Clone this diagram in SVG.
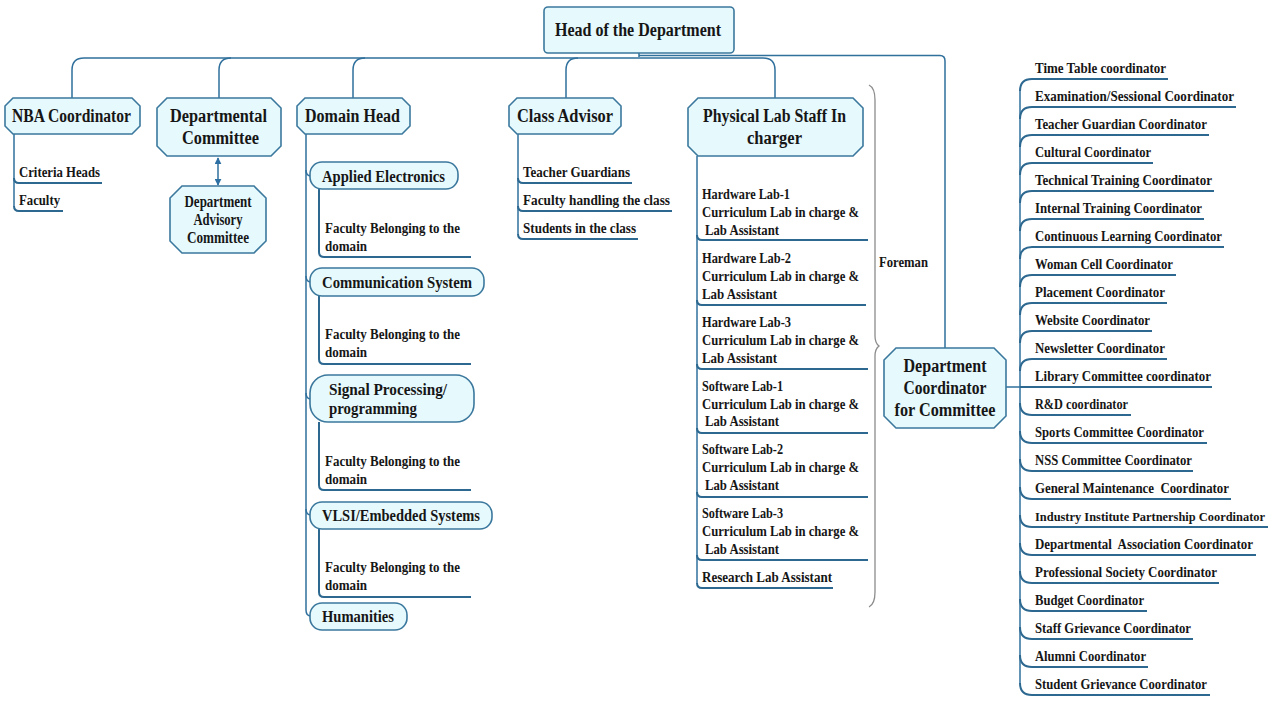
<svg xmlns="http://www.w3.org/2000/svg" width="1280" height="720" viewBox="0 0 1280 720">
<defs>
<style>
.box{fill:#e6f9fd;stroke:#3b789d;stroke-width:1.6}
.ln{fill:none;stroke:#30709c;stroke-width:1.5}
.ul{fill:none;stroke:#2c6890;stroke-width:2}
.br{fill:none;stroke:#8c8c8c;stroke-width:1.3}
text{font-family:"Liberation Serif","DejaVu Serif",serif;font-weight:bold;fill:#161616;white-space:pre}
.h{font-size:18px}
.m{font-size:16px}
.s{font-size:14px}
.xs{font-size:12.8px}
</style>
<marker id="ah" viewBox="0 0 10 10" refX="9" refY="5" markerWidth="7" markerHeight="7" orient="auto-start-reverse" markerUnits="userSpaceOnUse">
<path d="M0,0 L10,5 L0,10 Z" fill="#2c6fa3"/>
</marker>
</defs>
<rect width="1280" height="720" fill="#ffffff"/>

<g id="connectors">
<path class="ln" d="M639,53 V57"/>
<path class="ln" d="M72,98 V70 Q72,58 84,58 H763 Q775,58 775,70 V98"/>
<path class="ln" d="M231,58 Q219,58 219,70 V98"/>
<path class="ln" d="M365,58 Q353,58 353,70 V98"/>
<path class="ln" d="M578,58 Q566,58 566,70 V98"/>
<path class="ln" d="M639,55.5 H940 Q945,55.5 945,61 V348"/>
<path class="ln" d="M218,158 V185" stroke="#2c6fa3" marker-start="url(#ah)" marker-end="url(#ah)"/>
<!-- NBA -->
<path class="ln" d="M14,134 V206"/>
<path class="ul" d="M14,178 Q14,183 19,183 H102"/>
<path class="ul" d="M14,206 Q14,211 19,211 H63"/>
<!-- Domain head -->
<path class="ln" d="M306,134 V610 Q306,616 311,616"/>
<path class="ln" d="M306,170 Q306,176 311,176"/>
<path class="ln" d="M306,276 Q306,282 311,282"/>
<path class="ln" d="M306,393 Q306,399 311,399"/>
<path class="ln" d="M306,509 Q306,515 311,515"/>
<path class="ul" d="M319,189 V252 Q319,257 324,257 H471"/>
<path class="ul" d="M319,296 V359 Q319,364 324,364 H471"/>
<path class="ul" d="M319,422 V485 Q319,490 324,490 H471"/>
<path class="ul" d="M319,529 V592 Q319,597 324,597 H471"/>
<!-- Class advisor -->
<path class="ln" d="M518,134 V234"/>
<path class="ul" d="M518,178 Q518,183 523,183 H632"/>
<path class="ul" d="M518,206 Q518,211 523,211 H672"/>
<path class="ul" d="M518,234 Q518,239 523,239 H638"/>
<!-- Physical lab -->
<path class="ln" d="M697,156 V583"/>
<path class="ul" d="M697,235 Q697,240 702,240 H868"/>
<path class="ul" d="M697,300 Q697,305 702,305 H866"/>
<path class="ul" d="M697,364 Q697,369 702,369 H868"/>
<path class="ul" d="M697,428 Q697,433 702,433 H868"/>
<path class="ul" d="M697,492 Q697,497 702,497 H868"/>
<path class="ul" d="M697,555 Q697,560 702,560 H868"/>
<path class="ul" d="M697,583 Q697,588 702,588 H833"/>
<path class="br" d="M869,85 Q875,88 875,100 V336 Q875,343 879,346 Q875,349 875,356 V592 Q875,604 869,607"/>
<!-- Committee list -->
<path class="ln" d="M1006,387 H1020"/>
<path class="ln" d="M1020,91 V683"/>
<path class="ul" d="M1020,91 Q1020,79 1032,79 H1168"/>
<path class="ul" d="M1020,119 Q1020,107 1032,107 H1236"/>
<path class="ul" d="M1020,147 Q1020,135 1032,135 H1209"/>
<path class="ul" d="M1020,175 Q1020,163 1032,163 H1153"/>
<path class="ul" d="M1020,203 Q1020,191 1032,191 H1214"/>
<path class="ul" d="M1020,231 Q1020,219 1032,219 H1204"/>
<path class="ul" d="M1020,259 Q1020,247 1032,247 H1224"/>
<path class="ul" d="M1020,287 Q1020,275 1032,275 H1176"/>
<path class="ul" d="M1020,315 Q1020,303 1032,303 H1167"/>
<path class="ul" d="M1020,343 Q1020,331 1032,331 H1152"/>
<path class="ul" d="M1020,371 Q1020,359 1032,359 H1167"/>
<path class="ul" d="M1020,387 H1212"/>
<path class="ul" d="M1020,403 Q1020,415 1032,415 H1131"/>
<path class="ul" d="M1020,431 Q1020,443 1032,443 H1207"/>
<path class="ul" d="M1020,459 Q1020,471 1032,471 H1193"/>
<path class="ul" d="M1020,487 Q1020,499 1032,499 H1231"/>
<path class="ul" d="M1020,515 Q1020,527 1032,527 H1268"/>
<path class="ul" d="M1020,543 Q1020,555 1032,555 H1256"/>
<path class="ul" d="M1020,571 Q1020,583 1032,583 H1219"/>
<path class="ul" d="M1020,599 Q1020,611 1032,611 H1147"/>
<path class="ul" d="M1020,627 Q1020,639 1032,639 H1193"/>
<path class="ul" d="M1020,655 Q1020,667 1032,667 H1148"/>
<path class="ul" d="M1020,683 Q1020,695 1032,695 H1210"/>
</g>

<g id="hod">
<rect class="box" x="544" y="7" width="190" height="46" rx="4"/>
<text class="h" x="555" y="36" textLength="166" lengthAdjust="spacingAndGlyphs">Head of the Department</text>
</g>

<g id="nba">
<path class="box" d="M13,98 H132 L140,106 V126 L132,134 H13 L5,126 V106 Z"/>
<text class="h" x="12" y="122" textLength="119" lengthAdjust="spacingAndGlyphs">NBA Coordinator</text>
</g>
<g id="nba-items">
<text class="s" x="19" y="177" textLength="81" lengthAdjust="spacingAndGlyphs">Criteria Heads</text>
<text class="s" x="19" y="205" textLength="41" lengthAdjust="spacingAndGlyphs">Faculty</text>
</g>

<g id="dept-committee">
<path class="box" d="M167,98 H271 L281,108 V146 L271,156 H167 L157,146 V108 Z"/>
<text class="h" x="170" y="122" textLength="97" lengthAdjust="spacingAndGlyphs">Departmental</text>
<text class="h" x="182" y="144" textLength="77" lengthAdjust="spacingAndGlyphs">Committee</text>
</g>

<g id="advisory">
<path class="box" d="M182,186 H254 L266,198 V241 L254,253 H182 L170,241 V198 Z"/>
<text class="m" x="218" y="207" text-anchor="middle" textLength="67" lengthAdjust="spacingAndGlyphs">Department</text>
<text class="m" x="218" y="225" text-anchor="middle" textLength="49" lengthAdjust="spacingAndGlyphs">Advisory</text>
<text class="m" x="218" y="243" text-anchor="middle" textLength="62" lengthAdjust="spacingAndGlyphs">Committee</text>
</g>

<g id="domain-head">
<path class="box" d="M305,98 H402 L410,106 V126 L402,134 H305 L297,126 V106 Z"/>
<text class="h" x="305" y="122" textLength="95" lengthAdjust="spacingAndGlyphs">Domain Head</text>
</g>

<g id="applied-electronics">
<rect class="box" x="310" y="162" width="148" height="27" rx="12"/>
<text class="m" x="322" y="181.5" textLength="123" lengthAdjust="spacingAndGlyphs">Applied Electronics</text>
<text class="s" x="325" y="233" textLength="135" lengthAdjust="spacingAndGlyphs">Faculty Belonging to the</text>
<text class="s" x="325" y="251" textLength="42" lengthAdjust="spacingAndGlyphs">domain</text>
</g>

<g id="communication-system">
<rect class="box" x="310" y="268" width="174" height="28" rx="12"/>
<text class="m" x="322" y="288" textLength="150" lengthAdjust="spacingAndGlyphs">Communication System</text>
<text class="s" x="325" y="339" textLength="135" lengthAdjust="spacingAndGlyphs">Faculty Belonging to the</text>
<text class="s" x="325" y="357" textLength="42" lengthAdjust="spacingAndGlyphs">domain</text>
</g>

<g id="signal-processing">
<rect class="box" x="310" y="375" width="164" height="47" rx="18"/>
<text class="m" x="329" y="395" textLength="118" lengthAdjust="spacingAndGlyphs">Signal Processing/</text>
<text class="m" x="329" y="414" textLength="88" lengthAdjust="spacingAndGlyphs">programming</text>
<text class="s" x="325" y="466" textLength="135" lengthAdjust="spacingAndGlyphs">Faculty Belonging to the</text>
<text class="s" x="325" y="484" textLength="42" lengthAdjust="spacingAndGlyphs">domain</text>
</g>

<g id="vlsi">
<rect class="box" x="310" y="502" width="182" height="27" rx="12"/>
<text class="m" x="322" y="521" textLength="158" lengthAdjust="spacingAndGlyphs">VLSI/Embedded Systems</text>
<text class="s" x="325" y="572" textLength="135" lengthAdjust="spacingAndGlyphs">Faculty Belonging to the</text>
<text class="s" x="325" y="590" textLength="42" lengthAdjust="spacingAndGlyphs">domain</text>
</g>

<g id="humanities">
<rect class="box" x="310" y="603" width="97" height="27" rx="12"/>
<text class="m" x="322" y="622" textLength="72" lengthAdjust="spacingAndGlyphs">Humanities</text>
</g>

<g id="class-advisor">
<path class="box" d="M517,98 H613 L621,106 V126 L613,134 H517 L509,126 V106 Z"/>
<text class="h" x="517" y="122" textLength="96" lengthAdjust="spacingAndGlyphs">Class Advisor</text>
</g>
<g id="class-items">
<text class="s" x="523" y="177" textLength="107" lengthAdjust="spacingAndGlyphs">Teacher Guardians</text>
<text class="s" x="523" y="205" textLength="147" lengthAdjust="spacingAndGlyphs">Faculty handling the class</text>
<text class="s" x="523" y="233" textLength="113" lengthAdjust="spacingAndGlyphs">Students in the class</text>
</g>

<g id="physical-lab">
<path class="box" d="M698,98 H853 L863,108 V146 L853,156 H698 L688,146 V108 Z"/>
<text class="h" x="703" y="122" textLength="143" lengthAdjust="spacingAndGlyphs">Physical Lab Staff In</text>
<text class="h" x="747" y="144" textLength="55" lengthAdjust="spacingAndGlyphs">charger</text>
</g>
<g id="lab-items">
<text class="s" x="702" y="199" textLength="88" lengthAdjust="spacingAndGlyphs">Hardware Lab-1</text>
<text class="s" x="702" y="217" textLength="157" lengthAdjust="spacingAndGlyphs">Curriculum Lab in charge &amp;</text>
<text class="s" x="705" y="235" textLength="74" lengthAdjust="spacingAndGlyphs">Lab Assistant</text>
<text class="s" x="702" y="263" textLength="89" lengthAdjust="spacingAndGlyphs">Hardware Lab-2</text>
<text class="s" x="702" y="281" textLength="157" lengthAdjust="spacingAndGlyphs">Curriculum Lab in charge &amp;</text>
<text class="s" x="702" y="299" textLength="75" lengthAdjust="spacingAndGlyphs">Lab Assistant</text>
<text class="s" x="702" y="327" textLength="89" lengthAdjust="spacingAndGlyphs">Hardware Lab-3</text>
<text class="s" x="702" y="345" textLength="157" lengthAdjust="spacingAndGlyphs">Curriculum Lab in charge &amp;</text>
<text class="s" x="702" y="363" textLength="75" lengthAdjust="spacingAndGlyphs">Lab Assistant</text>
<text class="s" x="702" y="391" textLength="81" lengthAdjust="spacingAndGlyphs">Software Lab-1</text>
<text class="s" x="702" y="409" textLength="157" lengthAdjust="spacingAndGlyphs">Curriculum Lab in charge &amp;</text>
<text class="s" x="705" y="426" textLength="74" lengthAdjust="spacingAndGlyphs">Lab Assistant</text>
<text class="s" x="702" y="454" textLength="81" lengthAdjust="spacingAndGlyphs">Software Lab-2</text>
<text class="s" x="702" y="472" textLength="157" lengthAdjust="spacingAndGlyphs">Curriculum Lab in charge &amp;</text>
<text class="s" x="705" y="490" textLength="74" lengthAdjust="spacingAndGlyphs">Lab Assistant</text>
<text class="s" x="702" y="518" textLength="81" lengthAdjust="spacingAndGlyphs">Software Lab-3</text>
<text class="s" x="702" y="536" textLength="157" lengthAdjust="spacingAndGlyphs">Curriculum Lab in charge &amp;</text>
<text class="s" x="705" y="554" textLength="74" lengthAdjust="spacingAndGlyphs">Lab Assistant</text>
<text class="s" x="702" y="582" textLength="130" lengthAdjust="spacingAndGlyphs">Research Lab Assistant</text>
<text class="s" x="879" y="267" textLength="49" lengthAdjust="spacingAndGlyphs">Foreman</text>
</g>

<g id="dept-coordinator">
<path class="box" d="M896,348 H994 L1006,360 V416 L994,428 H896 L884,416 V360 Z"/>
<text class="h" x="945" y="372" text-anchor="middle" textLength="83" lengthAdjust="spacingAndGlyphs">Department</text>
<text class="h" x="945" y="394" text-anchor="middle" textLength="83" lengthAdjust="spacingAndGlyphs">Coordinator</text>
<text class="h" x="945" y="416" text-anchor="middle" textLength="101" lengthAdjust="spacingAndGlyphs">for Committee</text>
</g>

<g id="committee-list">
<text class="s" x="1035" y="73" textLength="131" lengthAdjust="spacingAndGlyphs">Time Table coordinator</text>
<text class="s" x="1035" y="101" textLength="199" lengthAdjust="spacingAndGlyphs">Examination/Sessional Coordinator</text>
<text class="s" x="1035" y="129" textLength="172" lengthAdjust="spacingAndGlyphs">Teacher Guardian Coordinator</text>
<text class="s" x="1035" y="157" textLength="116" lengthAdjust="spacingAndGlyphs">Cultural Coordinator</text>
<text class="s" x="1035" y="185" textLength="177" lengthAdjust="spacingAndGlyphs">Technical Training Coordinator</text>
<text class="s" x="1035" y="213" textLength="167" lengthAdjust="spacingAndGlyphs">Internal Training Coordinator</text>
<text class="s" x="1035" y="241" textLength="187" lengthAdjust="spacingAndGlyphs">Continuous Learning Coordinator</text>
<text class="s" x="1035" y="269" textLength="138" lengthAdjust="spacingAndGlyphs">Woman Cell Coordinator</text>
<text class="s" x="1035" y="297" textLength="130" lengthAdjust="spacingAndGlyphs">Placement Coordinator</text>
<text class="s" x="1035" y="325" textLength="115" lengthAdjust="spacingAndGlyphs">Website Coordinator</text>
<text class="s" x="1035" y="353" textLength="130" lengthAdjust="spacingAndGlyphs">Newsletter Coordinator</text>
<text class="s" x="1035" y="381" textLength="176" lengthAdjust="spacingAndGlyphs">Library Committee coordinator</text>
<text class="s" x="1035" y="409" textLength="93" lengthAdjust="spacingAndGlyphs">R&amp;D coordinator</text>
<text class="s" x="1035" y="437" textLength="169" lengthAdjust="spacingAndGlyphs">Sports Committee Coordinator</text>
<text class="s" x="1035" y="465" textLength="157" lengthAdjust="spacingAndGlyphs">NSS Committee Coordinator</text>
<text class="s" x="1035" y="493" textLength="194" lengthAdjust="spacingAndGlyphs">General Maintenance  Coordinator</text>
<text class="xs" x="1035" y="521" textLength="230" lengthAdjust="spacingAndGlyphs">Industry Institute Partnership Coordinator</text>
<text class="s" x="1035" y="549" textLength="218" lengthAdjust="spacingAndGlyphs">Departmental  Association Coordinator</text>
<text class="s" x="1035" y="577" textLength="182" lengthAdjust="spacingAndGlyphs">Professional Society Coordinator</text>
<text class="s" x="1035" y="605" textLength="109" lengthAdjust="spacingAndGlyphs">Budget Coordinator</text>
<text class="s" x="1035" y="633" textLength="156" lengthAdjust="spacingAndGlyphs">Staff Grievance Coordinator</text>
<text class="s" x="1035" y="661" textLength="111" lengthAdjust="spacingAndGlyphs">Alumni Coordinator</text>
<text class="s" x="1035" y="689" textLength="172" lengthAdjust="spacingAndGlyphs">Student Grievance Coordinator</text>
</g>
</svg>
